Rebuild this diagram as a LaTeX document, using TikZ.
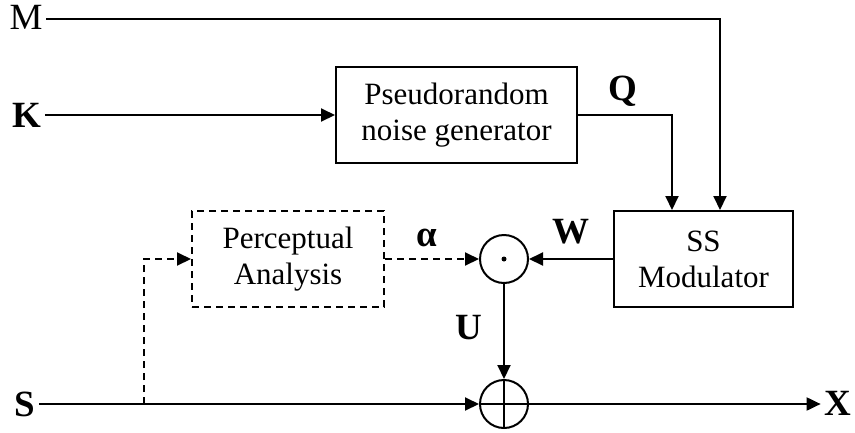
\documentclass[tikz,border=0pt]{standalone}
\usepackage{fontspec}
\setmainfont{Liberation Serif}
\usetikzlibrary{arrows.meta}

\begin{document}
\begin{tikzpicture}[x=1pt, y=-1pt, line width=2pt,
  sig/.style={font=\fontsize{37}{42}\selectfont, inner sep=3pt},
  bsig/.style={sig, font=\fontsize{37}{42}\selectfont\bfseries},
  blk/.style={draw, align=center, inner sep=0pt, minimum height=96pt, font=\fontsize{31}{36}\selectfont},
  arr/.style={-{Triangle[length=14pt, width=13pt]}},
  dsh/.style={dash pattern=on 7pt off 5pt}]
  \useasboundingbox (0,0) rectangle (855,432);
  % blocks
  \node[blk, minimum width=241pt] (png) at (456.5,115) {Pseudorandom\\noise generator};
  \node[blk, minimum width=179pt] (mod) at (703.5,259) {SS\\Modulator};
  \node[blk, dsh, minimum width=192pt] (pa) at (288,259) {Perceptual\\Analysis};
  \node[circle, draw, minimum size=48pt, inner sep=0pt] (mul) at (504,259) {};
  \fill (mul.center) circle (2.5pt);
  \node[circle, draw, minimum size=48pt, inner sep=0pt,
    path picture={\draw (path picture bounding box.north) -- (path picture bounding box.south)
      (path picture bounding box.west) -- (path picture bounding box.east);}] (add) at (504,404) {};
  % signals
  \node[sig] (m) at (26,17) {M};
  \node[bsig] (k) at (26.5,115) {K};
  \node[bsig] (s) at (25,404) {S};
  \node[bsig] (x) at (838,403) {X};
  \node[bsig] (q) at (623,91) {Q};
  \node[bsig] (w) at (571,232) {W};
  \node[bsig] (a) at (427,238) {α};
  \node[bsig] (u) at (468.5,328) {U};
  \coordinate (mtop) at (720,19);
  \coordinate (qtop) at (672,115);
  \coordinate (sbr) at (144,404);
  % connections
  \draw[arr] (m.east |- mtop) -- (mtop) -- (mtop |- mod.north);
  \draw[arr] (k.east |- png.west) -- (png.west);
  \draw[arr] (png.east) -- (qtop) -- (qtop |- mod.north);
  \draw[arr] (mod.west) -- (mul.east);
  \draw[arr, dsh] (pa.east) -- (mul.west);
  \draw[arr] (mul.south) -- (add.north);
  \draw[arr] (s.east |- add.west) -- (add.west);
  \draw[arr] (add.east) -- (x.west |- add.east);
  \draw[arr, dsh] (sbr) -- (sbr |- pa.west) -- (pa.west);
\end{tikzpicture}
\end{document}
